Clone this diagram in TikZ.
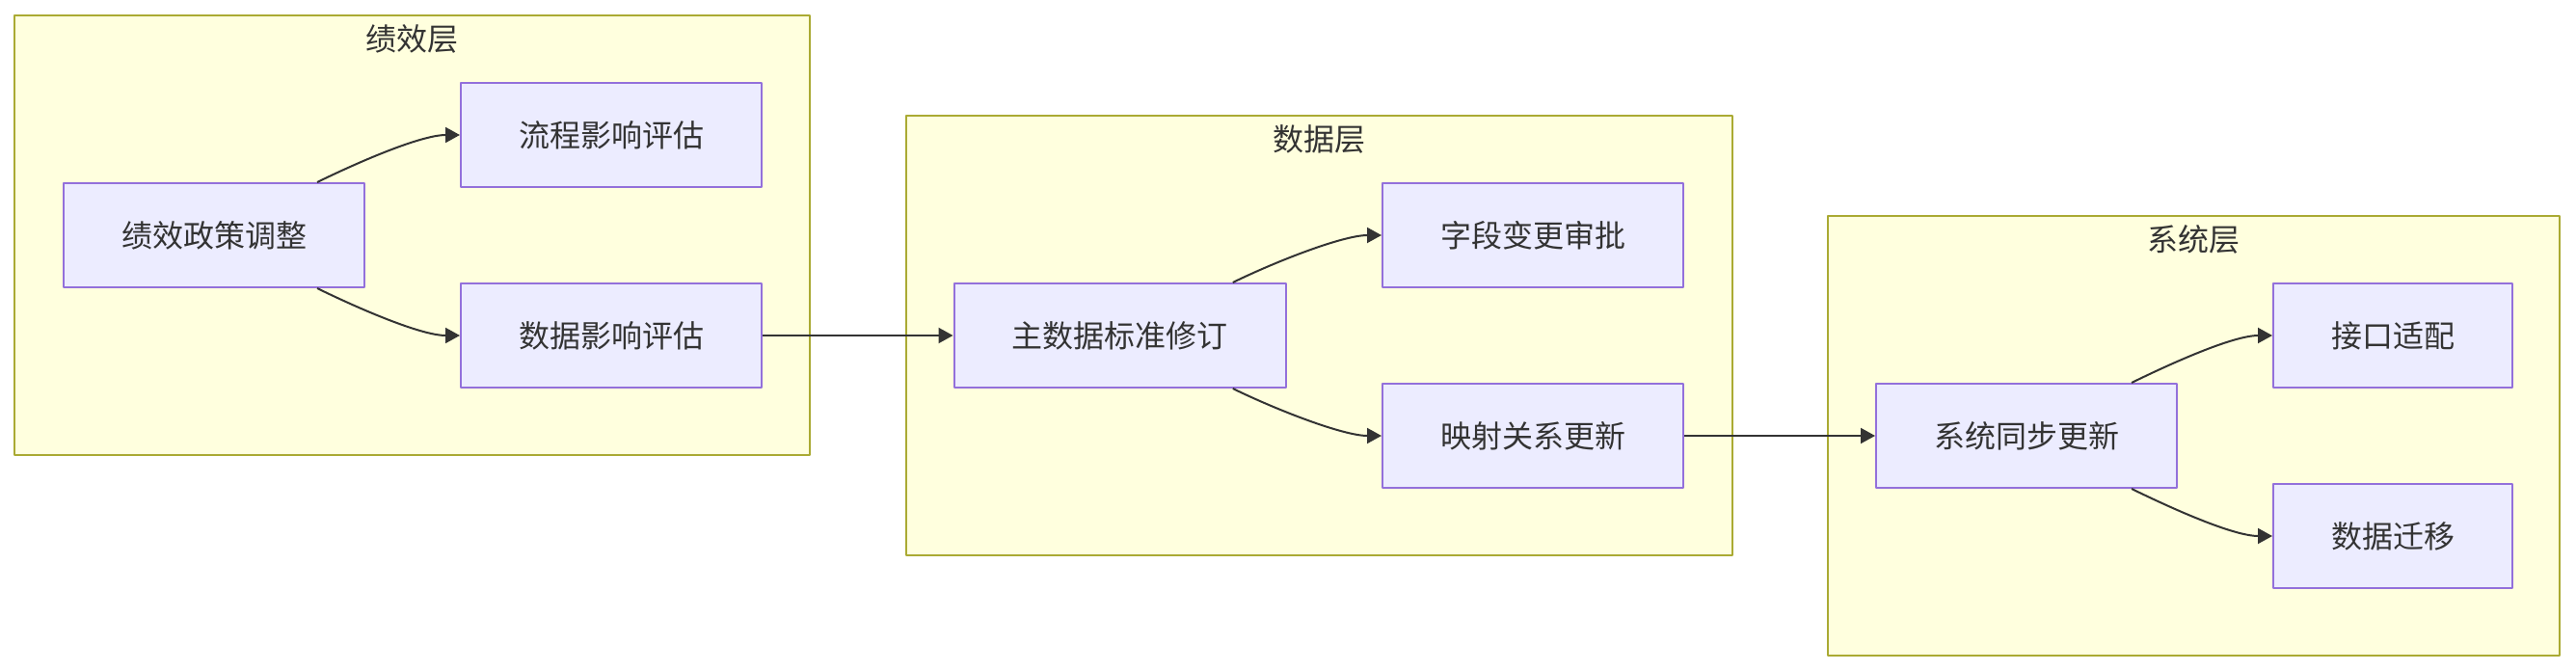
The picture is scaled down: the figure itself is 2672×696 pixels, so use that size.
\documentclass[tikz,border=0pt]{standalone}
\usepackage{fontspec}
\newfontfamily\cjk{Noto Sans CJK SC}
\usetikzlibrary{arrows.meta}

\definecolor{clfill}{HTML}{FFFFDE}
\definecolor{cldraw}{HTML}{AAAA33}
\definecolor{ndfill}{HTML}{ECECFF}
\definecolor{nddraw}{HTML}{9370DB}
\definecolor{ink}{HTML}{333333}

\begin{document}
\begin{tikzpicture}[x=1pt, y=-1pt, line join=round,
  cluster/.style={draw=cldraw, fill=clfill, line width=2pt},
  ctitle/.style={inner sep=0pt, text=ink, font=\cjk\fontsize{32}{38}\selectfont},
  box/.style={draw=nddraw, fill=ndfill, line width=2pt, inner sep=0pt,
    minimum width=312pt, minimum height=108pt, text=ink,
    font=\cjk\fontsize{32}{38}\selectfont},
  link/.style={draw=ink, line width=2pt, -{Triangle[length=15pt,width=16pt]}}]

  %% ════ 分组框 ════
  \draw[cluster] (15.4,15.7) rectangle (840,472);
  \node[ctitle] (jxc) at (427.7,40) {绩效层};
  \draw[cluster] (940,120) rectangle (1796.6,576);
  \node[ctitle] (sjc) at (1368.3,144) {数据层};
  \draw[cluster] (1896,224) rectangle (2655,680);
  \node[ctitle] (xtc) at (2275.5,248) {系统层};

  %% ════ 节点 ════
  \node[box] (jxzc) at (222,244) {绩效政策调整};
  \node[box] (lcyx) at (634,140) {流程影响评估};
  \node[box] (sjyx) at (634,348) {数据影响评估};

  \node[box, minimum width=344.5pt] (zsjbz) at (1161.75,348) {主数据标准修订};
  \node[box] (zdbg) at (1590,244) {字段变更审批};
  \node[box] (ysgx) at (1590,452) {映射关系更新};

  \node[box] (xttb) at (2102,452) {系统同步更新};
  \node[box, minimum width=248pt] (jkpz) at (2482,348) {接口适配};
  \node[box, minimum width=248pt] (sjqy) at (2482,556) {数据迁移};

  %% ════ 连线 ════
  \draw[link] ([xshift=107pt]jxzc.north) .. controls +(45,-22) and +(-40,0) .. (lcyx.west);
  \draw[link] ([xshift=107pt]jxzc.south) .. controls +(45,22) and +(-40,0) .. (sjyx.west);
  \draw[link] (sjyx.east) -- (zsjbz.west);

  \draw[link] ([xshift=117pt]zsjbz.north) .. controls +(45,-22) and +(-40,0) .. (zdbg.west);
  \draw[link] ([xshift=117pt]zsjbz.south) .. controls +(45,22) and +(-40,0) .. (ysgx.west);
  \draw[link] (ysgx.east) -- (xttb.west);

  \draw[link] ([xshift=109pt]xttb.north) .. controls +(45,-22) and +(-40,0) .. (jkpz.west);
  \draw[link] ([xshift=109pt]xttb.south) .. controls +(45,22) and +(-40,0) .. (sjqy.west);

  % 钉死画布
  \pgfresetboundingbox
  \path[use as bounding box] (0,0) rectangle (2672,696);
\end{tikzpicture}
\end{document}
